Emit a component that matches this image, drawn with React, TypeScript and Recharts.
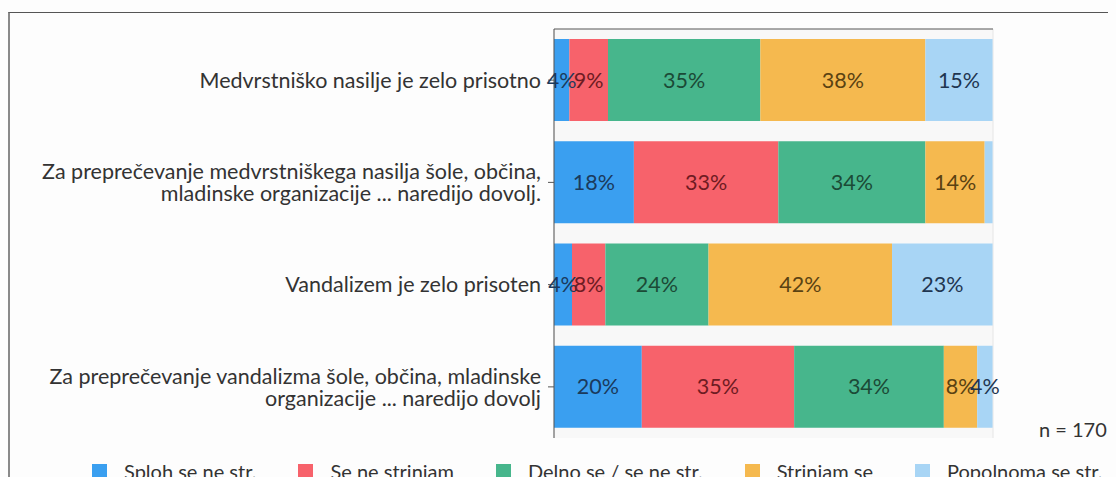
import React from 'react';
import { BarChart, Bar, XAxis, YAxis, CartesianGrid, LabelList, Legend } from 'recharts';

const categories = [
  'Medvrstniško nasilje je zelo prisotno',
  'Za preprečevanje medvrstniškega nasilja šole, občina,\nmladinske organizacije ... naredijo dovolj.',
  'Vandalizem je zelo prisoten',
  'Za preprečevanje vandalizma šole, občina, mladinske\norganizacije ... naredijo dovolj',
];
const seriesNames = ['Sploh se ne str.', 'Se ne strinjam', 'Delno se / se ne str.', 'Strinjam se', 'Popolnoma se str.'];
const splohSeNeStr = [3.5, 18.2, 4.1, 20.0];
const seNeStrinjam = [8.8, 32.9, 7.6, 34.7];
const delnoSe = [34.7, 33.5, 23.5, 34.1];
const strinjamSe = [37.6, 13.5, 41.8, 7.6];
const popolnomaSeStr = [15.3, 1.8, 22.9, 3.5];
const xTicks = [0, 20, 40, 60, 80, 100];
const sampleNote = 'n = 170';

const seriesValues = [splohSeNeStr, seNeStrinjam, delnoSe, strinjamSe, popolnomaSeStr];
const keys = ['s0', 's1', 's2', 's3', 's4'];
const fills = ['#3a9ff0', '#f7626b', '#47b68c', '#f5b94f', '#a8d5f5'];
const labelColors = ['#1b3a5c', '#6e1b22', '#1b4a36', '#5a4212', '#1f3550'];
const FONT = 'Lato, "Open Sans", sans-serif';

const data = categories.map((name, i) => {
  const row: any = { name };
  keys.forEach((k, j) => (row[k] = seriesValues[j][i]));
  return row;
});

const YTick = (props: any) => {
  const { x, y, payload } = props;
  const lines = String(payload.value).split('\n');
  const lh = 22;
  const y0 = y - ((lines.length - 1) * lh) / 2;
  return (
    <text textAnchor="end" fill="#333" fontSize={21.5} fontFamily={FONT}>
      {lines.map((l, i) => (
        <tspan key={i} x={x} y={y0 + i * lh} dy="0.36em">
          {l}
        </tspan>
      ))}
    </text>
  );
};

const makeLabel = (color: string) => (props: any) => {
  const { x, y, width, height, value } = props;
  if (value < 2.5) return null;
  return (
    <text
      x={x + width / 2}
      y={y + height / 2}
      dy="0.36em"
      textAnchor="middle"
      fill={color}
      fontSize={21.5}
      fontFamily={FONT}
    >
      {Math.round(value)}%
    </text>
  );
};

const LegendContent = () => (
  <div style={{ display: 'flex', paddingLeft: 82, fontFamily: FONT, fontSize: 20, color: '#333', lineHeight: '22px' }}>
    {seriesNames.map((n, i) => (
      <div key={n} style={{ display: 'flex', alignItems: 'center', marginRight: 42, whiteSpace: 'nowrap' }}>
        <span style={{ display: 'inline-block', width: 15, height: 15, background: fills[i], marginRight: 17 }} />
        <span>{n}</span>
      </div>
    ))}
  </div>
);

export default function App() {
  return (
    <div style={{ position: 'relative', marginTop: 4, marginLeft: -1, borderLeft: '3px solid #8a8a8a', borderTop: '1px solid #555', width: 1110, height: 470, background: '#fdfdfd' }}>
      <style>{`html,body{overflow:hidden;background:#fdfdfd}`}</style>
      <BarChart
        width={1106}
        height={470}
        data={data}
        layout="vertical"
        margin={{ top: 8, right: 123, bottom: 45, left: 0 }}
        barCategoryGap={10}
      >
        <CartesianGrid horizontal={false} stroke="#e6e6e6" fill="#f8f8f8" />
        <XAxis
          type="number"
          orientation="top"
          domain={[0, 100]}
          ticks={xTicks}
          height={8}
          tickSize={7}
          tick={false}
          stroke="#555"
        />
        <YAxis
          type="category"
          dataKey="name"
          width={544}
          tickSize={6}
          tickMargin={7}
          stroke="#555"
          tick={<YTick />}
          interval={0}
        />
        <Legend
          layout="horizontal"
          verticalAlign="middle"
          align="center"
          wrapperStyle={{ top: 447, left: 0, width: 1106 }}
          content={<LegendContent />}
        />
        {keys.map((k, i) => (
          <Bar key={k} dataKey={k} name={seriesNames[i]} stackId="a" fill={fills[i]} isAnimationActive={false}>
            <LabelList dataKey={k} content={makeLabel(labelColors[i])} />
          </Bar>
        ))}
      </BarChart>
      <div style={{ position: 'absolute', left: 1029, top: 405, fontFamily: FONT, fontSize: 20, color: '#333', lineHeight: '22px' }}>
        {sampleNote}
      </div>
    </div>
  );
}
